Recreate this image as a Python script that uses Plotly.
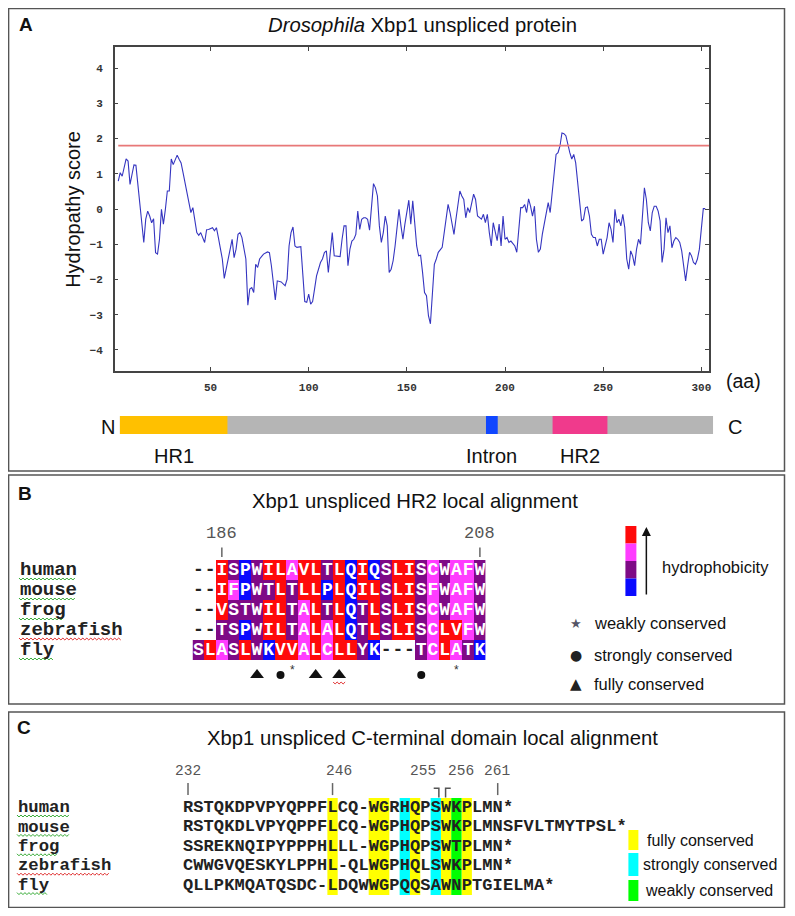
import plotly.graph_objects as go

# ---------------- data ----------------
residues = [3,4,5,7,8,9,10,11,12,13,14,16,17,18,19,20,21,22,23,24,25,26,27,28,29,30,31,32,33,34,35,36,38,39,40,41,42,43,44,45,47,48,49,50,51,52,53,54,56,57,58,60,61,62,63,64,65,66,68,69,70,71,72,73,74,75,77,79,80,81,83,84,86,88,89,90,91,92,93,94,96,97,98,99,100,101,102,103,104,106,107,108,109,110,111,112,113,114,116,117,118,119,120,121,122,123,124,125,126,127,128,129,130,131,132,133,134,135,136,137,138,139,140,141,142,143,144,145,146,147,148,149,150,151,152,153,154,155,156,157,158,159,160,161,162,163,164,165,166,168,169,170,171,172,173,174,175,177,178,179,180,181,182,183,184,185,186,188,189,190,191,192,193,194,196,197,198,199,200,201,202,203,205,206,207,208,209,210,211,212,213,214,215,216,217,218,219,220,221,222,223,224,225,226,227,228,229,230,231,232,233,234,235,236,237,238,239,240,241,242,243,244,245,246,247,248,249,250,251,252,253,254,255,256,257,258,259,260,261,262,263,264,265,266,267,268,269,270,271,272,273,274,275,276,277,278,279,280,281,282,283,284,285,286,287,288,289,290,291,292,293,294,295,296,297,298,299,300,301,302]
scores = [0.79,1.03,0.93,1.42,1.36,0.70,0.98,1.25,1.24,0.65,0.08,-0.95,-0.29,-0.06,-0.20,-0.39,-0.28,-1.24,-1.28,-0.86,-0.01,-0.43,-0.01,0.51,0.51,1.42,1.26,1.41,1.53,1.41,1.31,1.03,0.46,0.18,-0.10,0.04,-0.39,-0.67,-0.75,-0.67,-0.95,-0.59,-0.58,-0.56,-0.53,-0.62,-0.53,-0.81,-1.42,-1.97,-1.66,-1.14,-0.86,-1.38,-1.14,-0.72,-0.67,-0.81,-1.42,-2.73,-2.27,-2.23,-2.37,-1.57,-1.66,-1.42,-1.28,-1.22,-1.24,-1.61,-2.58,-2.04,-2.07,-2.18,-1.99,-1.05,-0.67,-0.51,-1.05,-1.09,-1.07,-1.90,-2.63,-2.65,-2.42,-2.70,-2.63,-2.27,-1.90,-1.52,-1.42,-1.24,-1.19,-1.80,-1.14,-0.67,-1.33,-1.33,-1.35,-0.86,-0.48,-0.48,-1.61,-1.14,-0.91,-0.86,-0.72,-0.06,-0.58,-0.29,-0.25,-0.25,-0.29,-0.60,0.13,0.72,0.60,0.37,-0.48,-0.95,-0.67,-0.20,-0.48,-1.80,-1.71,-1.47,-1.05,-0.48,-0.01,-0.48,-0.86,-0.43,-0.10,0.25,-0.43,0.23,-0.39,-1.05,-1.33,-1.31,-1.80,-2.37,-2.46,-3.03,-3.26,-2.37,-1.57,-1.42,-1.23,-1.09,-0.67,-0.29,0.13,-0.10,-0.43,-0.72,-0.29,0.51,0.37,0.27,-0.25,0.04,-0.10,0.18,0.42,0.27,-0.20,-0.29,-0.15,-0.39,-0.15,-0.67,-1.05,-0.39,-0.90,-0.43,-1.05,-0.20,-0.86,-0.81,-0.95,-0.91,-1.05,-1.23,-0.62,0.04,0.04,0.13,-0.10,0.29,0.08,-0.20,0.08,-0.86,-1.23,-1.14,-0.72,-0.39,-0.10,0.18,-0.10,0.51,1.12,1.55,1.60,1.79,2.16,2.14,2.08,1.79,1.60,1.42,1.55,1.31,0.75,0.18,-0.34,-0.29,0.04,0.06,-0.20,-0.72,-0.81,-0.81,-1.05,-0.86,-0.86,-1.28,-1.00,-0.81,-0.39,-0.58,-0.95,-0.01,-0.39,-0.29,-0.48,-0.15,-0.53,-1.42,-1.71,-1.19,-1.33,-1.61,-1.14,-0.86,-1.00,-0.29,0.60,0.27,-0.39,-0.62,-0.10,0.08,0.08,-0.06,-0.34,-1.52,-1.14,-0.25,-0.67,-0.48,-1.10,-0.91,-0.81,-0.86,-0.95,-1.19,-1.61,-2.04,-1.61,-1.23,-1.33,-1.52,-1.57,-1.42,-1.14,-0.58,0.01,0.01]
threshold = 1.8
threshold_span = [3, 304]
x_ticks = [50, 100, 150, 200, 250, 300]
y_ticks = [-4, -3, -2, -1, 0, 1, 2, 3, 4]

protein_length = 303
domain_names = ["HR1", "Intron", "HR2"]
domain_starts = [1, 188, 222]
domain_ends = [55, 193, 249]

species = ["human", "mouse", "frog", "zebrafish", "fly"]
hr2_alignment = [
    "--ISPWILAVLTLQIQSLISCWAFW",
    "--IFPWTLTLLPLQILSLISFWAFW",
    "--VSTWILTALTLQTLSLISCWAFW",
    "--TSPWILTALALQTLSLISCLVFW",
    "SLASLWKVVALCLLYK---TCLATK",
]
hr2_numbers = ["186", "208"]
hr2_number_cols = [2, 24]
hr2_symbols = ["triangle", "circle", "star", "triangle", "triangle", "circle", "star"]
hr2_symbol_cols = [5, 7, 8, 10, 12, 19, 22]
hydro_class = {"I": 3, "V": 3, "L": 3, "F": 2, "C": 2, "M": 2, "A": 2,
               "G": 1, "T": 1, "S": 1, "W": 1, "Y": 1,
               "P": 0, "H": 0, "Q": 0, "E": 0, "D": 0, "N": 0, "K": 0, "R": 0}

ct_alignment = [
    "RSTQKDPVPYQPPFLCQ-WGRHQPSWKPLMN*",
    "RSTQKDLVPYQPPFLCQ-WGPHQPSWKPLMNSFVLTMYTPSL*",
    "SSREKNQIPYPPPHLLL-WGPHQPSWTPLMN*",
    "CWWGVQESKYLPPHL-QLWGPHQLSWKPLMN*",
    "QLLPKMQATQSDC-LDQWWGPQQSAWNPTGIELMA*",
]
ct_numbers = ["232", "246", "255", "256", "261"]
ct_fully_cols = [14, 18, 19, 22, 25, 27]
ct_strong_cols = [21, 24]
ct_weak_cols = [26]

# ---------------- helpers ----------------
# page body has an 8px margin: the figure sits at (8, 8) and is sized to fit the window
OFF = 8
W, H = 795 - 2 * OFF, 916 - 2 * OFF
def px(x): return (x - OFF) / W
def py(y): return 1 - (y - OFF) / H

SANS = "Liberation Sans, Arial, sans-serif"
MONO = "Liberation Mono, Courier New, monospace"

fig = go.Figure()

def ann(x, y, text, size=16.5, color="#111", family=SANS, xanchor="center",
        yanchor="middle", xref="paper", yref="paper", **kw):
    fig.add_annotation(x=x, y=y, xref=xref, yref=yref, text=text, showarrow=False,
                       xanchor=xanchor, yanchor=yanchor,
                       font=dict(family=family, size=size, color=color), **kw)

# ---------------- panel A: hydropathy ----------------
fig.add_trace(go.Scatter(x=residues, y=scores, mode="lines",
                         line=dict(color="#3535c0", width=1.1),
                         xaxis="x", yaxis="y", hoverinfo="skip", showlegend=False))
fig.add_trace(go.Scatter(x=threshold_span, y=[threshold, threshold], mode="lines",
                         line=dict(color="#e87878", width=1.6),
                         xaxis="x", yaxis="y", hoverinfo="skip", showlegend=False))

axis_common = dict(showgrid=False, zeroline=False, showline=True, linecolor="#444",
                   linewidth=1.5, mirror="ticks", ticks="inside", ticklen=4,
                   tickcolor="#444", tickwidth=1.2, fixedrange=True,
                   tickfont=dict(family=MONO, size=11, color="#333", weight="bold"))
fig.update_layout(
    xaxis=dict(domain=[px(115), px(711)], range=[1.2, 304], tickvals=x_ticks,
               anchor="y", ticklabelstandoff=5, **axis_common),
    yaxis=dict(domain=[py(371), py(47)], range=[-4.6, 4.6], tickvals=y_ticks,
               anchor="x", ticklabelstandoff=8, **axis_common),
)

# protein schematic bar
fig.update_layout(
    xaxis2=dict(domain=[px(120), px(715)], range=[0, protein_length], visible=False,
                anchor="y2", fixedrange=True),
    yaxis2=dict(domain=[py(434), py(416)], range=[0, 1], visible=False,
                anchor="x2", fixedrange=True),
)
fig.add_trace(go.Scatter(x=[0, protein_length], y=[0.5, 0.5], mode="lines",
                         line=dict(color="rgba(0,0,0,0)"), xaxis="x2", yaxis="y2",
                         hoverinfo="skip", showlegend=False))
fig.add_shape(type="rect", xref="x2", yref="y2", x0=0, x1=protein_length, y0=0, y1=1,
              fillcolor="#b5b5b5", line=dict(width=0))
dom_colors = ["#ffc000", "#1046ff", "#f03a8c"]
for name, s, e, c in zip(domain_names, domain_starts, domain_ends, dom_colors):
    fig.add_shape(type="rect", xref="x2", yref="y2", x0=s - 1, x1=e, y0=0, y1=1,
                  fillcolor=c, line=dict(width=0))
    ann((s - 1 + e) / 2, py(456), name, size=20, xref="x2")

ann(px(108), py(427), "N", size=20)
ann(px(737), py(427), "C", size=20)
ann(px(745), py(381), "(aa)", size=19.5)
ann(px(73), py(209), "Hydropathy score", size=20, textangle=-90)
ann(px(424), py(25), "<i>Drosophila</i> Xbp1 unspliced protein", size=20.3)

# panel letters and boxes
for letter, (lx, ly) in zip("ABC", [(26, 25), (25, 493), (24, 727)]):
    ann(px(lx), py(ly), f"<b>{letter}</b>", size=19)
for (x0, y0, x1, y1) in [(8.6, 8.6, 786.5, 471), (8.6, 475, 786.5, 704), (8.6, 712, 786.5, 907.4)]:
    fig.add_shape(type="rect", xref="paper", yref="paper", x0=px(x0), x1=px(x1),
                  y0=py(y1), y1=py(y0), line=dict(color="#555", width=1.5))

def wavy(x0, x1, y, color):
    pts = []
    x, up = x0, True
    while x <= x1:
        pts.append((x, y - 1 if up else y + 1))
        x += 2
        up = not up
    path = "M " + " L ".join(f"{px(a):.5f},{py(b):.5f}" for a, b in pts)
    fig.add_shape(type="path", path=path, xref="paper", yref="paper",
                  line=dict(color=color, width=1))

# ---------------- panel B: HR2 alignment ----------------
ncolB = len(hr2_alignment[0])
fig.update_layout(
    xaxis3=dict(domain=[px(193), px(193 + 11.76 * ncolB)], range=[0, ncolB], visible=False,
                anchor="y3", fixedrange=True),
    yaxis3=dict(domain=[py(690), py(520)], range=[6.5, -2], visible=False,
                anchor="x3", fixedrange=True),
)
zB = [[(hydro_class[ch] if ch in hydro_class else None) for ch in seq] for seq in hr2_alignment]
fig.add_trace(go.Heatmap(
    z=zB, x=[i + 0.5 for i in range(ncolB)], y=[r + 0.5 for r in range(len(species))],
    zmin=-0.5, zmax=3.5, showscale=False, hoverinfo="skip", xaxis="x3", yaxis="y3",
    colorscale=[[0, "#0a0aff"], [0.25, "#0a0aff"], [0.25, "#7e0a86"], [0.5, "#7e0a86"],
                [0.5, "#ff3cff"], [0.75, "#ff3cff"], [0.75, "#ff0a0a"], [1, "#ff0a0a"]]))
lx, ly, lt, gx, gy = [], [], [], [], []
for r, seq in enumerate(hr2_alignment):
    for c, ch in enumerate(seq):
        if ch == "-":
            gx.append(c + 0.5); gy.append(r + 0.5)
        else:
            lx.append(c + 0.5); ly.append(r + 0.5); lt.append(ch)
fig.add_trace(go.Scatter(x=lx, y=ly, text=lt, mode="text", xaxis="x3", yaxis="y3",
                         textfont=dict(family=MONO, size=18, color="white", weight="bold"),
                         hoverinfo="skip", showlegend=False))
fig.add_trace(go.Scatter(x=gx, y=gy, text=["-"] * len(gx), mode="text", xaxis="x3", yaxis="y3",
                         textfont=dict(family=MONO, size=18, color="#222", weight="bold"),
                         hoverinfo="skip", showlegend=False))
for num, col in zip(hr2_numbers, hr2_number_cols):
    ann(col + 0.5, -1.35, num, size=17, color="#555", family=MONO, xref="x3", yref="y3")
    fig.add_shape(type="line", xref="x3", yref="y3", x0=col + 0.5, x1=col + 0.5, y0=-0.62,
                  y1=-0.15, line=dict(color="#666", width=1.5))
sym_map = {"triangle": "triangle-up", "circle": "circle"}
for kind in ["triangle", "circle"]:
    xs = [c + 0.5 for s, c in zip(hr2_symbols, hr2_symbol_cols) if s == kind]
    fig.add_trace(go.Scatter(x=xs, y=[5.75] * len(xs), mode="markers", xaxis="x3", yaxis="y3",
                             marker=dict(symbol=sym_map[kind], color="#111",
                                         size=12 if kind == "triangle" else 8),
                             hoverinfo="skip", showlegend=False))
xs = [c + 0.5 for s, c in zip(hr2_symbols, hr2_symbol_cols) if s == "star"]
fig.add_trace(go.Scatter(x=xs, y=[5.55] * len(xs), mode="text", text=["*"] * len(xs),
                         xaxis="x3", yaxis="y3", textfont=dict(family=SANS, size=12, color="#333"),
                         hoverinfo="skip", showlegend=False))
wavy(334, 346, 683, "#e03030")

label_colors = ["#3a3", "#3a3", "#3a3", "#e03030", "#3a3"]
for r, name in enumerate(species):
    ann(px(18), r + 0.5, f"<b>{name}</b>", size=19, color="#222", family=MONO,
        xanchor="left", yref="y3")
    wavy(19, 19 + 11.4 * len(name), 560 + 20 * r + 19, label_colors[r])

ann(px(416), py(501), "Xbp1 unspliced HR2 local alignment", size=20.3)
# hydrophobicity legend
for (y0, y1, c) in [(526, 543.5, "#ff0a0a"), (543.5, 561, "#ff3cff"), (561, 578.5, "#7e0a86"), (578.5, 596, "#0a0aff")]:
    fig.add_shape(type="rect", xref="paper", yref="paper", x0=px(627), x1=px(638),
                  y0=py(y1), y1=py(y0), fillcolor=c, line=dict(width=0))
fig.add_annotation(x=px(648), y=py(527), xref="paper", yref="paper", text="", showarrow=True,
                   ax=0, ay=69, arrowhead=2, arrowsize=1.2, arrowwidth=1.5, arrowcolor="#111")
ann(px(662), py(567), "hydrophobicity", xanchor="left")
for sym, ssize, ycen, txt, col in [("★", 13, 623, "weakly conserved", "#556"),
                                   ("●", 14, 655, "strongly conserved", "#222"),
                                   ("▲", 15, 684, "fully conserved", "#222")]:
    ann(px(577), py(ycen), sym, size=ssize, color=col, family="DejaVu Sans")
    ann(px(594), py(ycen), txt, xanchor="left")

# ---------------- panel C: C-terminal alignment ----------------
ncolC = max(len(s) for s in ct_alignment)
cw = 10.35
rh = 19.4
fig.update_layout(
    xaxis4=dict(domain=[px(183.3), px(183.3 + cw * ncolC)], range=[0, ncolC], visible=False,
                anchor="y4", fixedrange=True),
    yaxis4=dict(domain=[py(798 + 5 * rh), py(798 - 2 * rh)], range=[5, -2], visible=False,
                anchor="x4", fixedrange=True),
)
for cols, c in [(ct_fully_cols, "#ffff00"), (ct_strong_cols, "#00ffff"), (ct_weak_cols, "#00ff00")]:
    for col in cols:
        fig.add_shape(type="rect", xref="x4", yref="y4", x0=col, x1=col + 1, y0=0, y1=5,
                      fillcolor=c, line=dict(width=0), layer="below")
cx, cy, ct = [], [], []
for r, seq in enumerate(ct_alignment):
    for c, ch in enumerate(seq):
        cx.append(c + 0.5); cy.append(r + 0.5); ct.append(ch)
fig.add_trace(go.Scatter(x=cx, y=cy, text=ct, mode="text", xaxis="x4", yaxis="y4",
                         textfont=dict(family=MONO, size=17, color="#222", weight="bold"),
                         hoverinfo="skip", showlegend=False))
num_pos = [0.5, 15.1, 23.25, 26.9, 30.4]
for num, xc in zip(ct_numbers, num_pos):
    ann(xc, -1.39, num, size=14.5, color="#555", family=MONO, xref="x4", yref="y4")
for xc in [0.5, 14.5, 30.5]:
    fig.add_shape(type="line", xref="x4", yref="y4", x0=xc, x1=xc, y0=-0.77, y1=-0.15,
                  line=dict(color="#666", width=1.5))
fig.add_shape(type="path", xref="x4", yref="y4", path="M 24.3,-0.5 L 24.8,-0.5 L 24.8,-0.02",
              line=dict(color="#555", width=1.5))
fig.add_shape(type="path", xref="x4", yref="y4", path="M 25.95,-0.5 L 25.45,-0.5 L 25.45,-0.02",
              line=dict(color="#555", width=1.5))
for r, name in enumerate(species):
    ann(px(16), r + 0.5, f"<b>{name}</b>", size=17.3, color="#222", family=MONO,
        xanchor="left", yref="y4")
    wavy(17, 17 + 10.4 * len(name), 798 + rh * r + 18, label_colors[r])
ann(px(434), py(738), "Xbp1 unspliced C-terminal domain local alignment", size=20.3)
for (y0, y1, c, txt, tx) in [(830, 850, "#ffff00", "fully conserved", 647),
                             (853, 876, "#00ffff", "strongly conserved", 643),
                             (880, 901, "#00ff00", "weakly conserved", 645)]:
    fig.add_shape(type="rect", xref="paper", yref="paper", x0=px(630), x1=px(640),
                  y0=py(y1), y1=py(y0), fillcolor=c, line=dict(width=0))
    ann(px(tx), py((y0 + y1) / 2), txt, size=16, xanchor="left")

fig.update_layout(width=W, height=H, margin=dict(l=0, r=0, t=0, b=0),
                  paper_bgcolor="white", plot_bgcolor="rgba(0,0,0,0)", showlegend=False)
fig.write_html("out.html")
